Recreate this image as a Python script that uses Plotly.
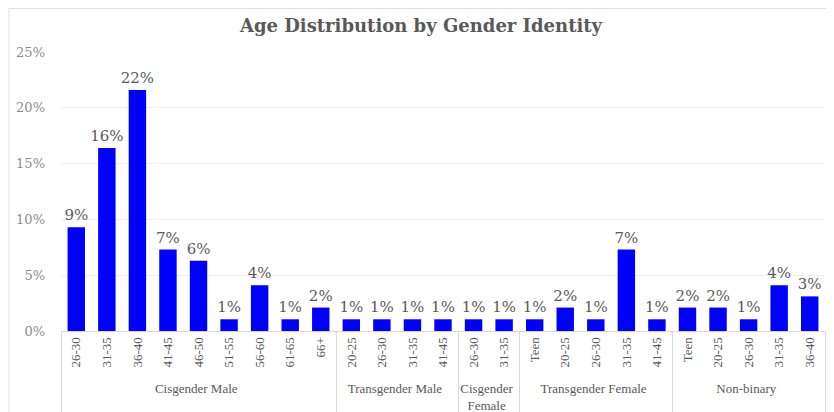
import plotly.graph_objects as go

group_names = ["Cisgender Male", "Transgender Male", "Cisgender<br>Female",
               "Transgender Female", "Non-binary"]
group_ages = [
    ["26-30", "31-35", "36-40", "41-45", "46-50", "51-55", "56-60", "61-65", "66+"],
    ["20-25", "26-30", "31-35", "41-45"],
    ["26-30", "31-35"],
    ["Teen", "20-25", "26-30", "31-35", "41-45"],
    ["Teen", "20-25", "26-30", "31-35", "36-40"],
]
group_values = [
    [0.093, 0.164, 0.216, 0.073, 0.063, 0.0105, 0.041, 0.0105, 0.021],
    [0.0105, 0.0105, 0.0105, 0.0105],
    [0.0105, 0.0105],
    [0.0105, 0.021, 0.0105, 0.073, 0.0105],
    [0.021, 0.021, 0.0105, 0.041, 0.031],
]
y_ticks = [0, 0.05, 0.10, 0.15, 0.20, 0.25]

# flatten; a group-specific zero-width suffix keeps each group's own age order
groups, ages, values = [], [], []
for gi, (g, a_list, v_list) in enumerate(zip(group_names, group_ages, group_values)):
    for a, v in zip(a_list, v_list):
        groups.append(g)
        ages.append(a + "\u200b" * gi)
        values.append(v)

serif = "Liberation Serif, DejaVu Serif, serif"
wide_serif = "DejaVu Serif, Liberation Serif, serif"

fig = go.Figure(go.Bar(
    x=[groups, ages],
    y=values,
    marker=dict(color="#0000FF", line=dict(width=0)),
    texttemplate="%{y:.0%}",
    textposition="outside",
    constraintext="none",
    textfont=dict(family=wide_serif, size=15, color="#595959"),
    cliponaxis=False,
    hovertemplate="%{x}: %{y:.1%}<extra></extra>",
))

# page body has an 8px margin, so the figure is 8px smaller than the window
fig.update_layout(
    width=826, height=404,
    margin=dict(l=53, r=9, t=44, b=81, autoexpand=False),
    paper_bgcolor="white", plot_bgcolor="white",
    title=dict(text="<b>Age Distribution by Gender Identity</b>", x=0.5, xanchor="center",
               y=0.955, yanchor="middle",
               font=dict(family=wide_serif, size=18, color="#595959")),
    bargap=0.43,
    showlegend=False,
    xaxis=dict(
        type="multicategory",
        tickangle=-90,
        tickfont=dict(family=serif, size=13, color="#595959"),
        showline=True, linecolor="#d9d9d9", linewidth=1,
        showdividers=True, dividercolor="#d9d9d9", dividerwidth=1,
        ticks="",
        showgrid=False,
    ),
    yaxis=dict(
        range=[0, 0.25],
        tickvals=y_ticks,
        tickformat=".0%",
        tickfont=dict(family=wide_serif, size=13, color="#8c8c8c"),
        showgrid=True, gridcolor="#f0f0f0", gridwidth=1,
        zeroline=False,
        ticklabelstandoff=15,
    ),
    shapes=[dict(type="rect", xref="paper", yref="paper",
                 x0=-52/764, x1=1+5/764, y0=-0.5, y1=1+43.5/279,
                 line=dict(color="#e0e0e0", width=1), fillcolor="rgba(0,0,0,0)", layer="below")],
)

fig.write_html("out.html")
